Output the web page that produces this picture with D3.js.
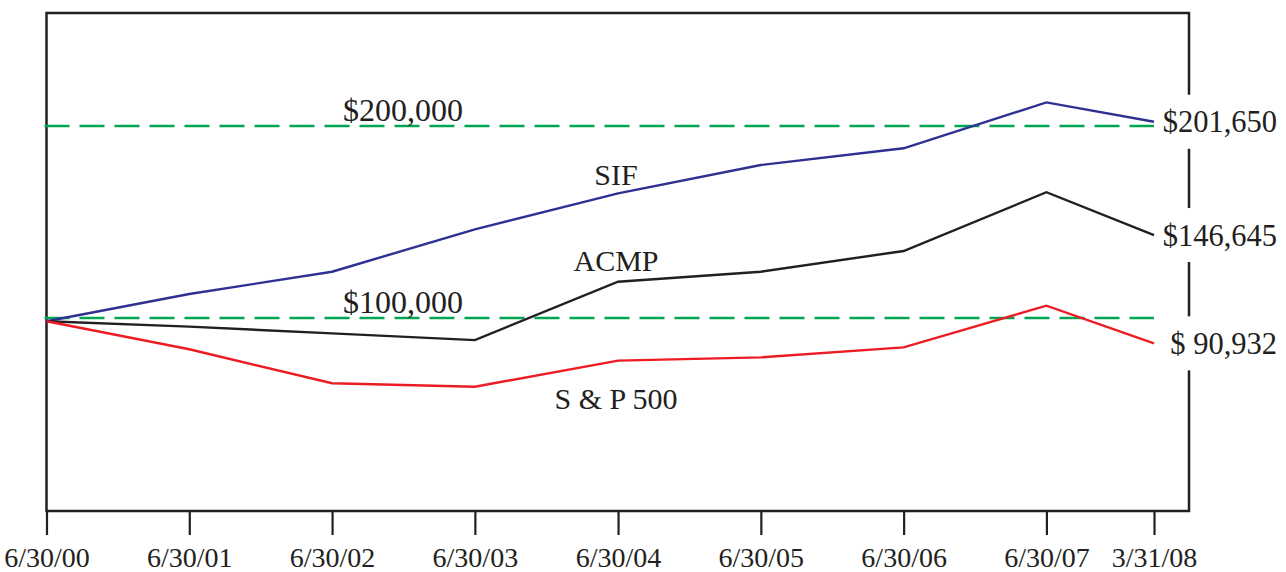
<!DOCTYPE html>
<html>
<head>
<meta charset="utf-8">
<script src="https://cdn.jsdelivr.net/npm/d3@7"></script>
<style>
  html, body { margin: 0; padding: 0; background: #fff; }
  svg { display: block; }
  text { font-family: "Liberation Serif", "Times New Roman", serif; fill: #231f20; }
</style>
</head>
<body>
<svg id="chart" width="1286" height="572"></svg>
<script>
// ---- data ----
const dates = ["2000-06-30","2001-06-30","2002-06-30","2003-06-30","2004-06-30","2005-06-30","2006-06-30","2007-06-30","2008-03-31"];
const tickLabels = ["6/30/00","6/30/01","6/30/02","6/30/03","6/30/04","6/30/05","6/30/06","6/30/07","3/31/08"];
const sifValues  = [98300, 112500, 124100, 146200, 164900, 179700, 188400, 212300, 202200];
const acmpValues = [98300,  95500,  92000,  88500, 118900, 124100, 134900, 165500, 143200];
const spValues   = [98300,  83700,  66000,  64200,  77800,  79500,  84700, 106400,  86800];
const seriesNames = ["SIF", "ACMP", "S & P 500"];
const endLabels = ["$201,650", "$146,645", "$ 90,932"];
const refValues = [200000, 100000];
const refLabels = ["$200,000", "$100,000"];

// ---- layout ----
const svg = d3.select("#chart");
const frame = {left: 46.5, top: 13, right: 1189, bottom: 511};
const parse = d3.utcParse("%Y-%m-%d");
const dateObjs = dates.map(parse);

const x = d3.scaleUtc().domain([dateObjs[0], dateObjs[dateObjs.length - 1]]).range([46.5, 1154]);
const y = d3.scaleLinear().domain([0, 250000]).range([510, 30]);

const ink = "#231f20";
const colors = ["#2e3192", "#231f20", "#ed1c24"];
const allSeries = [sifValues, acmpValues, spValues];

// frame
svg.append("rect")
  .attr("x", frame.left).attr("y", frame.top)
  .attr("width", frame.right - frame.left).attr("height", frame.bottom - frame.top)
  .attr("fill", "none").attr("stroke", ink).attr("stroke-width", 2.5);

// x axis ticks
const axis = d3.axisBottom(x)
  .tickValues(dateObjs)
  .tickSize(24)
  .tickFormat((d, i) => tickLabels[i]);
const ax = svg.append("g").attr("transform", `translate(0,${frame.bottom})`).call(axis);
ax.select(".domain").remove();
ax.selectAll(".tick line").attr("stroke", ink).attr("stroke-width", 2.2);
ax.selectAll(".tick text")
  .attr("y", 56).attr("dy", 0)
  .attr("font-size", 28)
  .attr("font-family", "Liberation Serif, Times New Roman, serif")
  .attr("fill", ink);

// reference dashed lines
refValues.forEach((v, i) => {
  svg.append("line")
    .attr("x1", x.range()[0] - 2).attr("x2", x.range()[1])
    .attr("y1", y(v)).attr("y2", y(v))
    .attr("stroke", "#00a651").attr("stroke-width", 2.6)
    .attr("stroke-dasharray", "25,10");
  svg.append("text")
    .attr("x", 343).attr("y", y(v) - 5)
    .attr("font-size", 32)
    .text(refLabels[i]);
});

// series lines
const line = d3.line().x((d, i) => x(dateObjs[i])).y(d => y(d));
allSeries.forEach((vals, i) => {
  svg.append("path")
    .datum(vals)
    .attr("d", line)
    .attr("fill", "none")
    .attr("stroke", colors[i])
    .attr("stroke-width", 2.4)
    .attr("stroke-linejoin", "miter");
});

// series name labels
const nameBaselines = [185, 271, 409];
seriesNames.forEach((n, i) => {
  svg.append("text")
    .attr("x", 616).attr("y", nameBaselines[i])
    .attr("text-anchor", "middle")
    .attr("font-size", 30)
    .text(n);
});

// end labels with white backing (interrupts right frame)
allSeries.forEach((vals, i) => {
  const yEnd = y(vals[vals.length - 1]);
  svg.append("rect")
    .attr("x", 1160).attr("y", yEnd - 27)
    .attr("width", 122).attr("height", 54)
    .attr("fill", "#fff");
  svg.append("text")
    .attr("x", 1277).attr("y", yEnd + 10.5)
    .attr("text-anchor", "end")
    .attr("font-size", 30.5)
    .text(endLabels[i]);
});
</script>
</body>
</html>
